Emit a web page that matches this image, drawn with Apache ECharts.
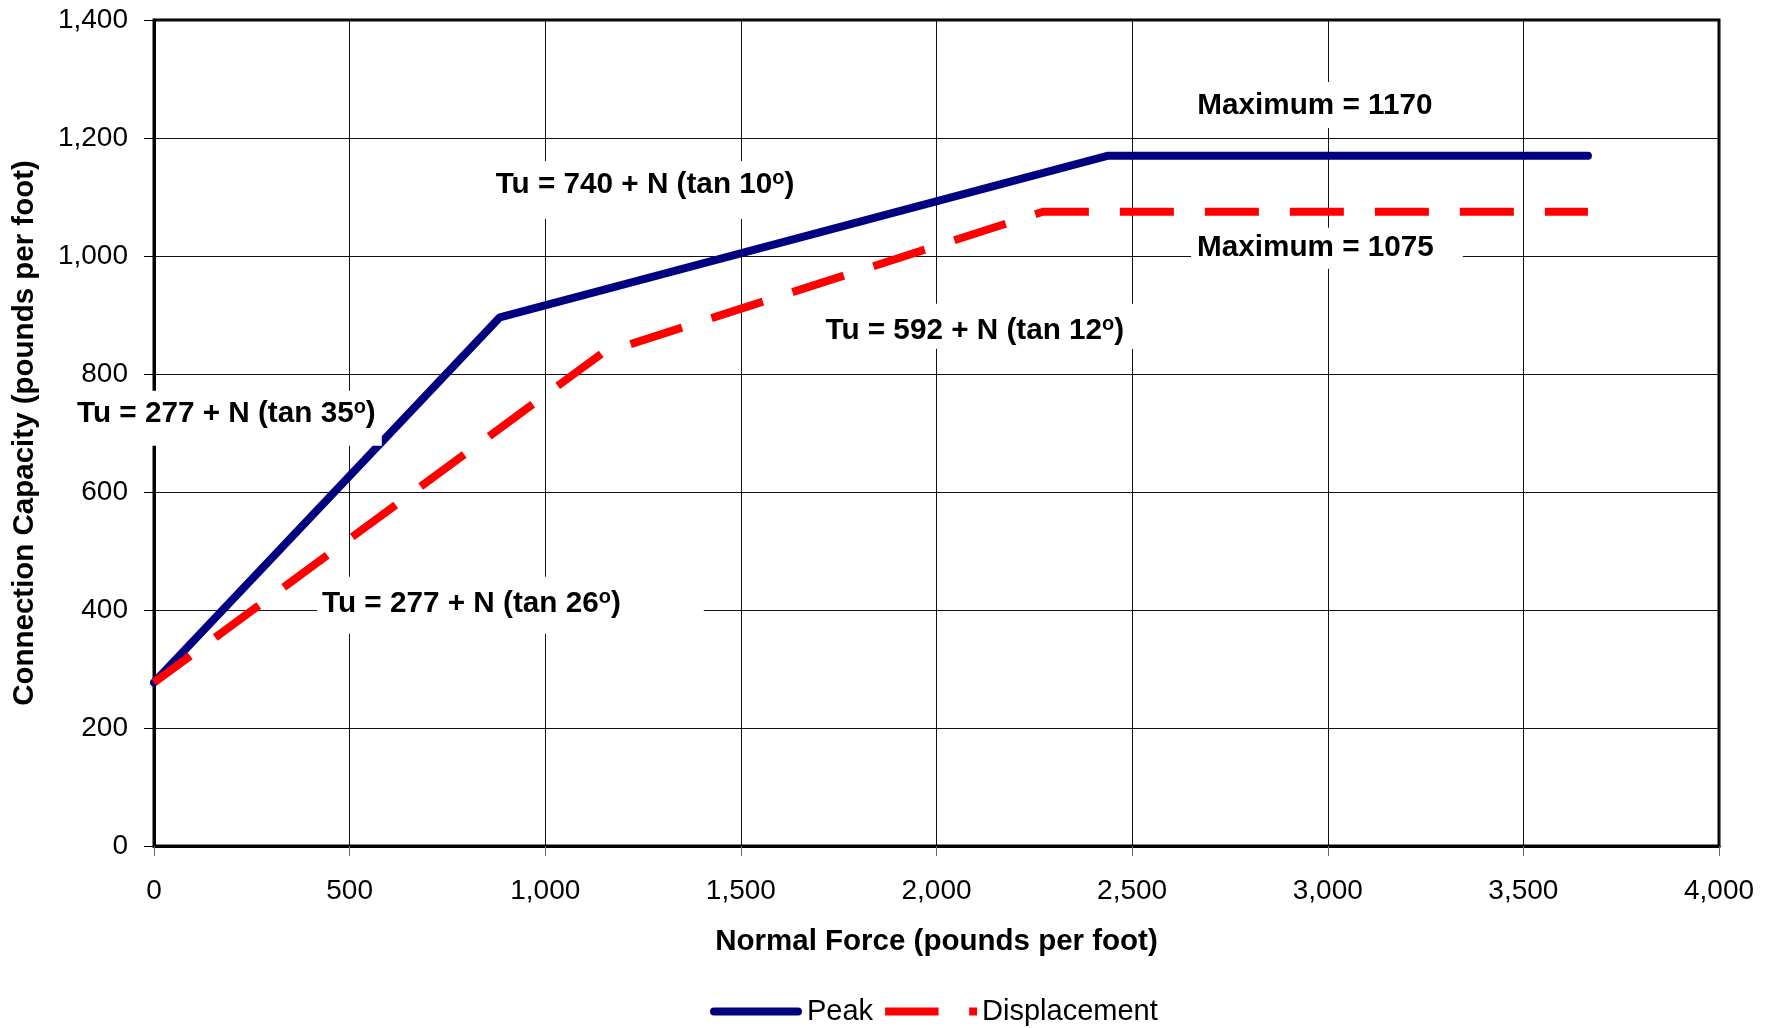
<!DOCTYPE html>
<html>
<head>
<meta charset="utf-8">
<script src="https://cdn.jsdelivr.net/npm/echarts@6/dist/echarts.min.js"></script>
<style>
html,body{margin:0;padding:0;background:#fff;}
#chart{width:1776px;height:1028px;}
</style>
</head>
<body>
<div id="chart"></div>
<script>
// ---- data ----
const peakX = [0, 884, 2439, 3665];
const peakY = [277, 896, 1170, 1170];
const dispX = [0, 1145, 2272, 3665];
const dispY = [277, 835, 1075, 1075];
const xTicks = [0, 500, 1000, 1500, 2000, 2500, 3000, 3500, 4000];
const yTicks = [0, 200, 400, 600, 800, 1000, 1200, 1400];
const noteText = ['Maximum = 1170', 'Maximum = 1075', 'Tu = 740 + N (tan 10', 'Tu = 592 + N (tan 12', 'Tu = 277 + N (tan 35', 'Tu = 277 + N (tan 26'];
const noteSup = [false, false, true, true, true, true];
const noteX = [2967, 2998, 1255, 2098, 185, 911];
const noteY = [1256, 1013, 1112, 881, 725, 408];
const seriesNames = ['Peak', 'Displacement'];

const FONT = "'Liberation Sans', Arial, sans-serif";
const notePad = [[8,12,6,12],[4,29,5,6],[8,18,18,18],[11,10,2,10],[7,6,16,6],[11,83,14,5]];

const chart = echarts.init(document.getElementById('chart'));
const fmt = v => v.toLocaleString('en-US');

const noteData = noteText.map((t, i) => ({
  value: [noteX[i], noteY[i]],
  label: {
    padding: notePad[i],
    formatter: noteSup[i] ? '{a|' + t + '}{s|o}{a|)}' : '{a|' + t + '}'
  }
}));

const option = {
  backgroundColor: '#fff',
  animation: false,
  grid: {left: 154, top: 20, right: 57, bottom: 182, show: true, borderColor: '#000', borderWidth: 3, backgroundColor: 'transparent'},
  legend: {
    data: [
      {name: seriesNames[0], icon: 'path://M4,0H88A4,4 0 0 1 88,8H4A4,4 0 0 1 4,0Z'},
      {name: seriesNames[1], icon: 'path://M0,0H54V8H0Z M85,0H93V8H85Z'}
    ],
    left: 710, top: 997, padding: 0,
    itemWidth: 92, itemHeight: 8, itemGap: 12,
    textStyle: {fontFamily: FONT, fontSize: 29, color: '#000'}
  },
  xAxis: {
    type: 'value', min: 0, max: 4000, interval: 500,
    name: 'Normal Force (pounds per foot)', nameLocation: 'middle', nameGap: 81,
    nameTextStyle: {fontFamily: FONT, fontSize: 29.5, fontWeight: 'bold', color: '#000'},
    axisLine: {show: true, lineStyle: {color: '#000', width: 3}},
    axisTick: {show: true, length: 10, lineStyle: {color: '#666', width: 1}},
    axisLabel: {margin: 31, fontFamily: FONT, fontSize: 28, color: '#000', formatter: fmt},
    splitLine: {show: true, lineStyle: {color: '#111', width: 1}}
  },
  yAxis: {
    type: 'value', min: 0, max: 1400, interval: 200,
    name: 'Connection Capacity (pounds per foot)', nameLocation: 'middle', nameGap: 114,
    nameTextStyle: {fontFamily: FONT, fontSize: 29.5, fontWeight: 'bold', color: '#000'},
    axisLine: {show: true, lineStyle: {color: '#000', width: 3}},
    axisTick: {show: true, length: 10, lineStyle: {color: '#000', width: 1}},
    axisLabel: {margin: 26, fontFamily: FONT, fontSize: 28, color: '#000', formatter: fmt},
    splitLine: {show: true, lineStyle: {color: '#111', width: 1}}
  },
  series: [
    {
      name: seriesNames[0], type: 'line', symbol: 'none', z: 3,
      data: peakX.map((x, i) => [x, peakY[i]]),
      lineStyle: {color: '#000080', width: 8, cap: 'round'},
      itemStyle: {color: '#000080'}
    },
    {
      name: seriesNames[1], type: 'line', symbol: 'none', z: 3,
      data: dispX.map((x, i) => [x, dispY[i]]),
      lineStyle: {color: '#ff0000', width: 8, type: [54, 31], dashOffset: 9},
      itemStyle: {color: '#ff0000'}
    },
    {
      type: 'scatter', symbolSize: 0, z: 20, silent: true,
      itemStyle: {color: '#000', opacity: 1},
      data: noteData,
      label: {
        show: true, position: 'inside', align: 'center', verticalAlign: 'middle', opacity: 1,
        backgroundColor: '#fff', color: '#000', textBorderWidth: 0, textBorderColor: 'transparent',
        rich: {
          a: {fontFamily: FONT, fontSize: 29.7, fontWeight: 'bold', color: '#000', lineHeight: 32, textBorderWidth: 0},
          s: {fontFamily: FONT, fontSize: 20, fontWeight: 'bold', color: '#000', lineHeight: 20, verticalAlign: 'top', textBorderWidth: 0}
        }
      }
    }
  ]
};
chart.setOption(option);
</script>
</body>
</html>
